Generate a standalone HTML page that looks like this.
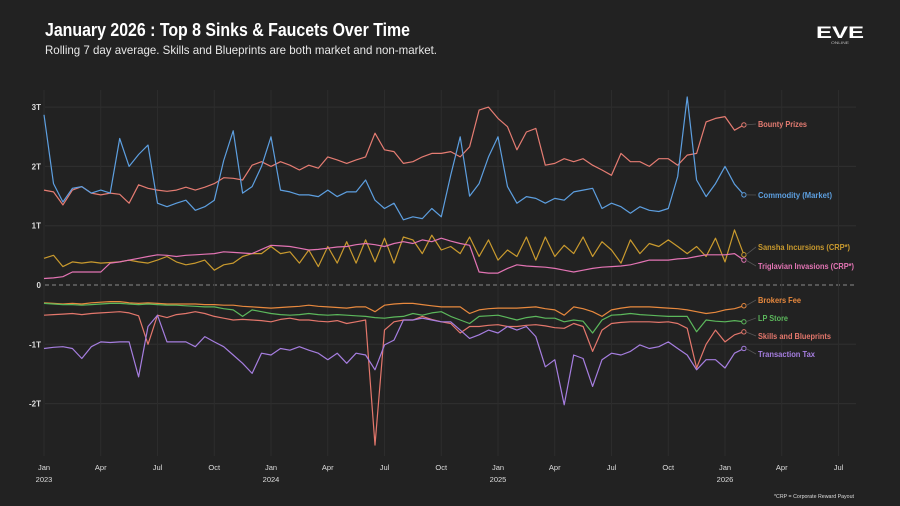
<!DOCTYPE html>
<html><head><meta charset="utf-8"><style>
html,body{margin:0;padding:0;background:#222222;}
svg{display:block;font-family:"Liberation Sans",sans-serif;}
</style></head><body>
<svg id="chart" width="900" height="506" viewBox="0 0 900 506" xmlns="http://www.w3.org/2000/svg">
<rect width="900" height="506" fill="#222222"/>
<text x="45" y="36" font-size="18" font-weight="bold" fill="#ffffff" textLength="365" lengthAdjust="spacingAndGlyphs">January 2026 : Top 8 Sinks &amp; Faucets Over Time</text>
<text x="45" y="54" font-size="12" fill="#e8e8e8" textLength="392" lengthAdjust="spacingAndGlyphs">Rolling 7 day average. Skills and Blueprints are both market and non-market.</text>
<g>
<text x="840" y="38" font-size="17" font-weight="bold" fill="#ffffff" text-anchor="middle" textLength="48" lengthAdjust="spacingAndGlyphs">EVE</text>
<text x="840" y="44" font-size="4" fill="#bbbbbb" text-anchor="middle" textLength="18" lengthAdjust="spacingAndGlyphs">ONLINE</text>
</g>
<g id="grid"></g>
<g id="axes"></g>
<g id="series"></g>
<g id="labels"></g>
<text x="854" y="498" font-size="5.5" fill="#dddddd" text-anchor="end" textLength="80" lengthAdjust="spacingAndGlyphs">*CRP = Corporate Reward Payout</text>
</svg>
<script>
// months since Jan 2023, half-month steps
const months = [];
for (let i = 0; i <= 74; i++) months.push(i / 2);
const yTicks = [3, 2, 1, 0, -1, -2];
const yTickLabels = ["3T", "2T", "1T", "0", "-1T", "-2T"];
const xTicks = [0, 3, 6, 9, 12, 15, 18, 21, 24, 27, 30, 33, 36, 39, 42];
const xTickLabels = ["Jan","Apr","Jul","Oct","Jan","Apr","Jul","Oct","Jan","Apr","Jul","Oct","Jan","Apr","Jul"];
const xYearLabels = ["2023","","","","2024","","","","2025","","","","2026","",""];

const commodity = [2.87,1.71,1.4,1.63,1.66,1.55,1.6,1.55,2.47,2.0,2.2,2.36,1.38,1.32,1.38,1.43,1.26,1.32,1.43,2.1,2.6,1.55,1.66,2.0,2.5,1.6,1.57,1.52,1.52,1.49,1.6,1.49,1.57,1.57,1.77,1.43,1.29,1.38,1.1,1.15,1.12,1.29,1.15,1.85,2.5,1.5,1.71,2.16,2.5,1.66,1.38,1.49,1.46,1.38,1.46,1.43,1.57,1.6,1.63,1.29,1.38,1.32,1.21,1.32,1.26,1.24,1.29,1.83,3.17,1.77,1.49,1.71,2.0,1.7,1.52];
const bounty = [1.6,1.57,1.35,1.6,1.66,1.55,1.52,1.55,1.53,1.38,1.69,1.63,1.6,1.58,1.6,1.65,1.6,1.65,1.71,1.81,1.8,1.77,2.02,2.08,2.0,2.08,2.02,1.94,2.02,1.97,2.16,2.11,2.05,2.11,2.16,2.56,2.28,2.25,2.05,2.08,2.16,2.22,2.22,2.25,2.16,2.33,2.95,3.0,2.81,2.67,2.28,2.58,2.64,2.02,2.05,2.13,2.08,2.13,2.02,1.94,1.85,2.22,2.08,2.08,2.0,2.13,2.13,2.02,2.19,2.22,2.75,2.81,2.84,2.61,2.7];
const sansha = [0.45,0.5,0.31,0.39,0.37,0.39,0.37,0.38,0.39,0.42,0.39,0.37,0.42,0.48,0.39,0.34,0.37,0.42,0.25,0.34,0.37,0.48,0.53,0.53,0.65,0.53,0.56,0.37,0.59,0.31,0.65,0.37,0.73,0.37,0.76,0.39,0.79,0.37,0.81,0.76,0.53,0.84,0.59,0.65,0.53,0.81,0.48,0.76,0.42,0.59,0.48,0.81,0.42,0.81,0.48,0.67,0.53,0.81,0.48,0.73,0.59,0.37,0.76,0.53,0.7,0.65,0.76,0.65,0.53,0.65,0.48,0.79,0.39,0.93,0.51];
const triglavian = [0.11,0.12,0.14,0.22,0.22,0.22,0.22,0.37,0.39,0.42,0.45,0.48,0.51,0.5,0.48,0.5,0.51,0.52,0.53,0.56,0.55,0.54,0.53,0.6,0.67,0.66,0.65,0.62,0.59,0.6,0.62,0.64,0.65,0.68,0.7,0.68,0.65,0.7,0.73,0.7,0.76,0.73,0.79,0.74,0.7,0.67,0.22,0.2,0.2,0.28,0.34,0.32,0.31,0.3,0.28,0.25,0.22,0.25,0.28,0.3,0.31,0.32,0.34,0.38,0.42,0.42,0.42,0.44,0.45,0.48,0.51,0.51,0.51,0.53,0.42];
const brokers = [-0.30,-0.31,-0.32,-0.31,-0.32,-0.30,-0.29,-0.28,-0.28,-0.30,-0.31,-0.30,-0.31,-0.32,-0.32,-0.32,-0.32,-0.33,-0.33,-0.34,-0.34,-0.36,-0.37,-0.38,-0.39,-0.38,-0.37,-0.36,-0.34,-0.36,-0.37,-0.38,-0.39,-0.37,-0.37,-0.45,-0.34,-0.32,-0.31,-0.31,-0.33,-0.35,-0.37,-0.37,-0.37,-0.48,-0.42,-0.40,-0.39,-0.39,-0.39,-0.38,-0.37,-0.40,-0.42,-0.51,-0.37,-0.40,-0.45,-0.53,-0.42,-0.39,-0.37,-0.37,-0.37,-0.38,-0.39,-0.40,-0.42,-0.45,-0.48,-0.46,-0.42,-0.40,-0.35];
const lpStore = [-0.31,-0.32,-0.33,-0.33,-0.34,-0.33,-0.32,-0.31,-0.31,-0.32,-0.33,-0.32,-0.33,-0.34,-0.34,-0.35,-0.36,-0.37,-0.37,-0.40,-0.42,-0.53,-0.42,-0.45,-0.48,-0.50,-0.51,-0.50,-0.48,-0.50,-0.51,-0.50,-0.51,-0.52,-0.53,-0.55,-0.56,-0.54,-0.53,-0.48,-0.51,-0.47,-0.45,-0.53,-0.59,-0.65,-0.53,-0.52,-0.51,-0.55,-0.59,-0.55,-0.53,-0.56,-0.56,-0.62,-0.59,-0.61,-0.81,-0.59,-0.51,-0.50,-0.48,-0.50,-0.51,-0.52,-0.53,-0.53,-0.53,-0.79,-0.59,-0.61,-0.62,-0.60,-0.62];
const skills = [-0.51,-0.50,-0.49,-0.48,-0.50,-0.48,-0.47,-0.46,-0.45,-0.47,-0.52,-1.0,-0.51,-0.55,-0.50,-0.48,-0.45,-0.48,-0.53,-0.56,-0.59,-0.58,-0.59,-0.60,-0.62,-0.58,-0.56,-0.59,-0.59,-0.61,-0.62,-0.60,-0.65,-0.62,-0.59,-2.7,-0.76,-0.62,-0.59,-0.59,-0.53,-0.58,-0.62,-0.65,-0.81,-0.70,-0.70,-0.68,-0.67,-0.70,-0.70,-0.68,-0.67,-0.69,-0.72,-0.73,-0.65,-0.70,-1.12,-0.76,-0.65,-0.63,-0.62,-0.62,-0.62,-0.63,-0.62,-0.65,-0.73,-1.4,-1.0,-0.76,-0.96,-0.84,-0.79];
const transTax = [-1.07,-1.05,-1.04,-1.07,-1.24,-1.04,-0.96,-0.97,-0.96,-0.96,-1.55,-0.70,-0.51,-0.96,-0.96,-0.96,-1.04,-0.87,-0.96,-1.04,-1.18,-1.32,-1.49,-1.15,-1.18,-1.07,-1.10,-1.04,-1.10,-1.15,-1.26,-1.15,-1.32,-1.15,-1.18,-1.43,-1.01,-0.93,-0.59,-0.59,-0.56,-0.59,-0.62,-0.62,-0.76,-0.90,-0.84,-0.76,-0.81,-0.70,-0.76,-0.70,-0.87,-1.38,-1.26,-2.02,-1.18,-1.24,-1.71,-1.26,-1.15,-1.18,-1.12,-1.01,-1.07,-1.04,-0.96,-1.07,-1.18,-1.43,-1.26,-1.26,-1.40,-1.15,-1.07];

const seriesNames = ["Bounty Prizes","Commodity (Market)","Sansha Incursions (CRP*)","Triglavian Invasions (CRP*)","Brokers Fee","LP Store","Skills and Blueprints","Transaction Tax"];

const NS = "http://www.w3.org/2000/svg";
function xScale(m){ return 44 + m * (227/12); }
function yScale(v){ return 285 - v * 59.3; }
function mk(tag, attrs, parent){
  const e = document.createElementNS(NS, tag);
  for (const k in attrs) e.setAttribute(k, attrs[k]);
  parent.appendChild(e);
  return e;
}
const grid = document.getElementById("grid");
const axes = document.getElementById("axes");
yTicks.forEach((t, i) => {
  const y = yScale(t);
  const ln = mk("line", {x1: 45, x2: 856, y1: y, y2: y, stroke: t === 0 ? "#8a8a8a" : "#303030", "stroke-width": 1, "stroke-dasharray": t === 0 ? "4,3" : "none"}, grid);
  
  
  const tx = mk("text", {x: 41, y: y + 3, "font-size": 8, "font-weight": "bold", fill: "#dddddd", "text-anchor": "end"}, axes);
  tx.textContent = yTickLabels[i];
  
  
});
xTicks.forEach((m, i) => {
  const x = xScale(m);
  const ln = mk("line", {x1: x, x2: x, y1: 90, y2: 456, stroke: "#2c2c2c", "stroke-width": 1}, grid);
  
  
  const tx = mk("text", {x: x, y: 470, "font-size": 7.5, fill: "#dddddd", "text-anchor": "middle"}, axes);
  tx.textContent = xTickLabels[i];
  
  
  if (xYearLabels[i]) {
    const ty = mk("text", {x: x, y: 482, "font-size": 7.5, fill: "#dddddd", "text-anchor": "middle"}, axes);
    ty.textContent = xYearLabels[i];
    
    
  }
});

const seriesData = [bounty, commodity, sansha, triglavian, brokers, lpStore, skills, transTax];
const colors = ["#e57c72","#5d9fe0","#c99a2e","#e374b4","#e8893e","#5cb85c","#e4776c","#a67ee0"];
const labelY = [127, 198, 250, 269, 303, 321, 339, 357];
const labelW = [49, 74, 92, 96, 43, 30, 73, 57];
const slugs = ["bounty-prizes","commodity-market","sansha-incursions","triglavian-invasions","brokers-fee","lp-store","skills-and-blueprints","transaction-tax"];
const sg = document.getElementById("series");
const lg = document.getElementById("labels");
seriesData.forEach((arr, s) => {
  const d = arr.map((v, i) => (i ? "L" : "M") + xScale(months[i]).toFixed(1) + "," + yScale(v).toFixed(1)).join(" ");
  const p = mk("path", {d: d, fill: "none", stroke: colors[s], "stroke-width": 1.2, "stroke-linejoin": "round"}, sg);
  
  
  const last = arr.length - 1;
  const ex = xScale(months[last]), ey = yScale(arr[last]);
  const c = mk("circle", {cx: ex, cy: ey, r: 2.2, fill: "#222222", stroke: colors[s], "stroke-width": 1}, lg);
  
  
  const l = mk("line", {x1: ex + 2, y1: ey, x2: 756, y2: labelY[s] - 3, stroke: "#555555", "stroke-width": 0.8}, lg);
  
  
  const t = mk("text", {x: 758, y: labelY[s], "font-size": 8, "font-weight": "bold", fill: colors[s], textLength: labelW[s], lengthAdjust: "spacingAndGlyphs"}, lg);
  t.textContent = seriesNames[s];
  
  
});
</script>
</body></html>
